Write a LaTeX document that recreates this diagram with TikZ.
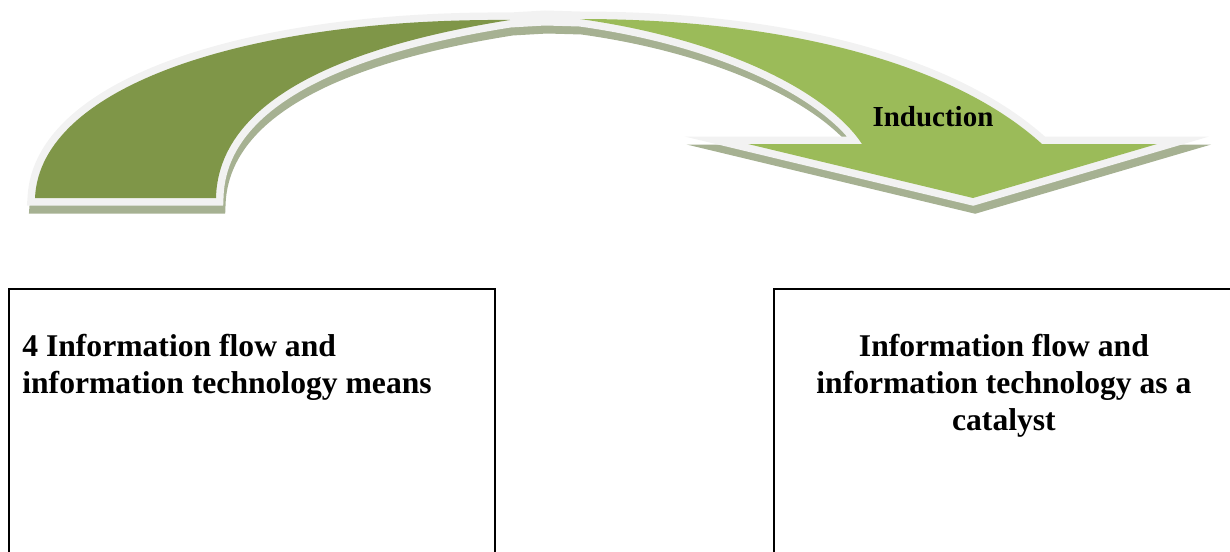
\documentclass[tikz,border=0pt]{standalone}
\usepackage{fontspec}
\setmainfont{Liberation Serif}
\usepackage{tikz}
\usetikzlibrary{positioning}
\definecolor{arrowdark}{RGB}{127, 150, 72}
\definecolor{arrowlight}{RGB}{155, 187, 89}
\definecolor{arrowrim}{RGB}{242, 242, 242}
\definecolor{arrowshadow}{RGB}{166, 177, 146}

\newcommand{\bentoutline}{(35,198) .. controls (40,85) and (250,18) .. (510,20)
  -- (545,18) -- (580,19) .. controls (790,19) and (955,65) .. (1042,144)
  -- (1157,144) -- (973,198) -- (748,144) -- (862,144)
  .. controls (830,95) and (730,40) .. (580,19) -- (545,18) -- (510,20)
  .. controls (320,50) and (218,110) .. (216,198) -- cycle}

\begin{document}
\begin{tikzpicture}[
  x=0.02cm, y=-0.02cm,
  infobox/.style={rectangle, draw, line width=1.1pt, anchor=north west, inner sep=0pt},
  boxtext/.style={inner sep=0pt, font=\bfseries\fontsize{18}{21}\selectfont},
  rim/.style={line width=0.3cm}
]
\useasboundingbox (0,0) rectangle (1230,551);
\clip (0,0) rectangle (1230,551);

% bent arrow: shadow, rim, then the two faces
\filldraw[arrowshadow, rim, shift={(2,8)}] \bentoutline;
\filldraw[arrowrim, rim] \bentoutline;
\fill[arrowdark] (35,198) .. controls (40,85) and (250,18) .. (510,20)
  .. controls (320,50) and (218,110) .. (216,198) -- cycle;
\fill[arrowlight] (580,19) .. controls (790,19) and (955,65) .. (1042,144)
  -- (1157,144) -- (973,198) -- (748,144) -- (862,144)
  .. controls (830,95) and (730,40) .. (580,19) -- cycle;
\node[anchor=base, inner sep=0pt, font=\bfseries\fontsize{16.5}{20}\selectfont] (induction) at (933,126) {Induction};

\node[infobox, minimum width=9.72cm, minimum height=7cm] (means) at (8,288) {};
\node[infobox, minimum width=9.2cm, minimum height=7cm] (catalyst) at (773,288) {};

\node[boxtext, align=left, below right=0.92cm and 0.28cm of means.north west] (meanstext)
  {4 Information flow and\\information technology means};
\node[boxtext, align=center, below=0.92cm of catalyst.north] (catalysttext)
  {Information flow and\\information technology as a\\catalyst};

\end{tikzpicture}
\end{document}
